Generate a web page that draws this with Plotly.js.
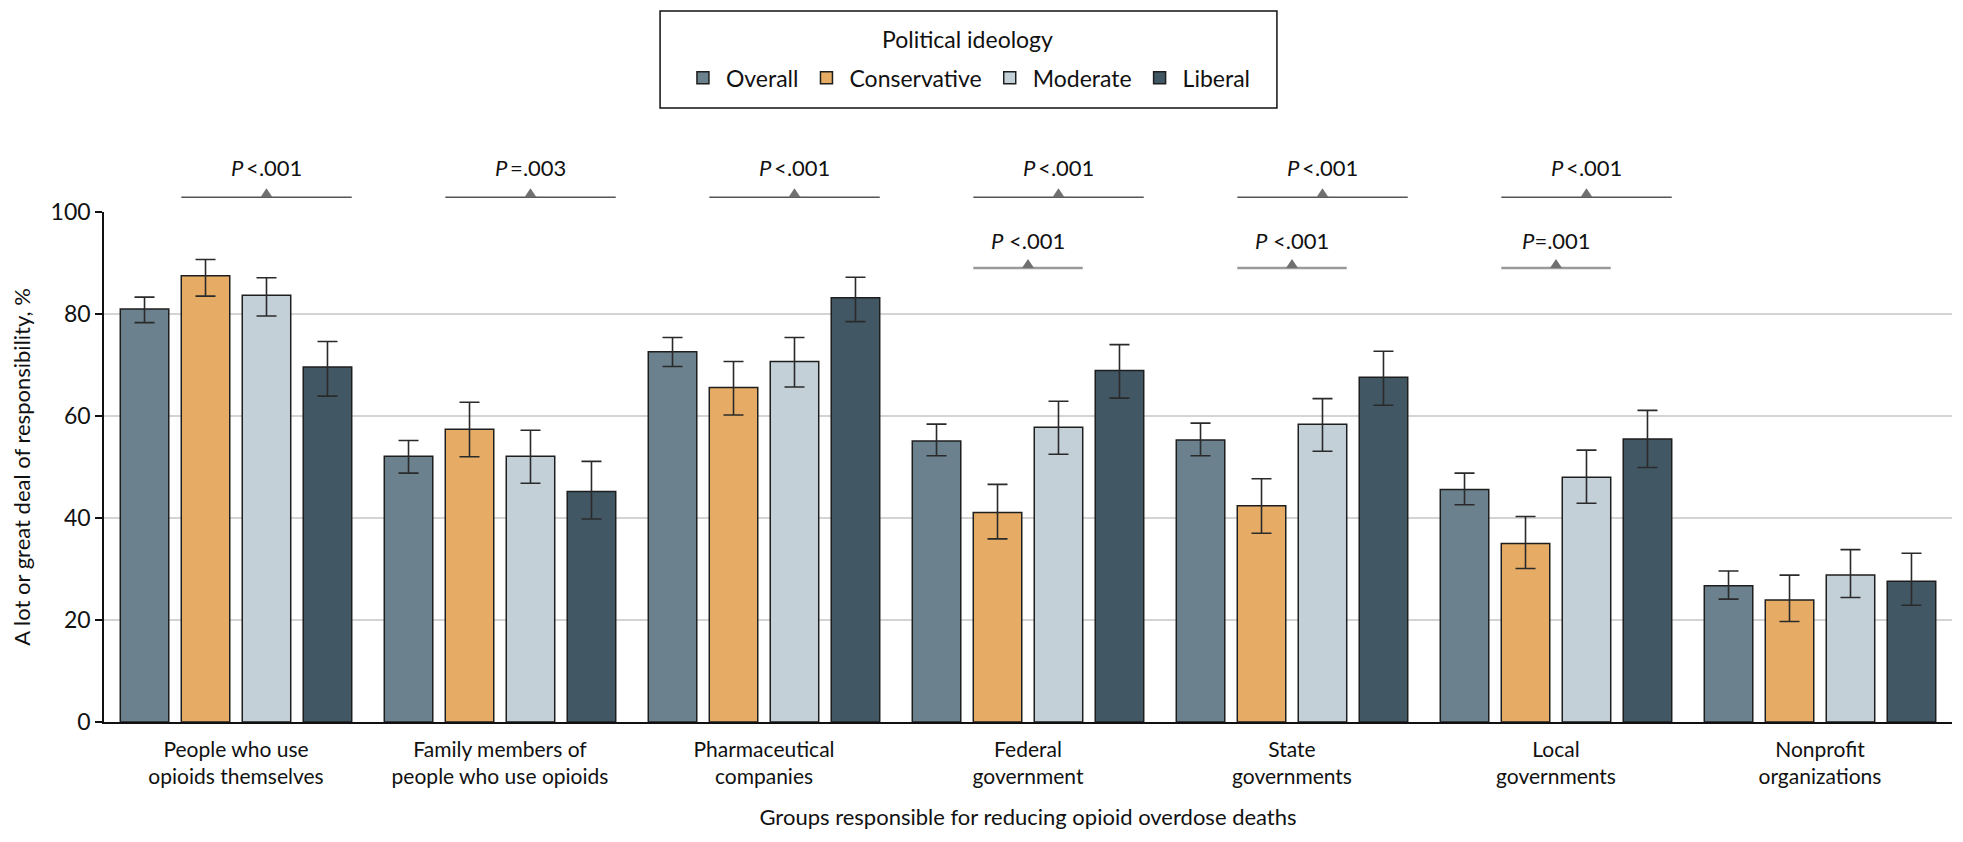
<!DOCTYPE html>
<html>
<head>
<meta charset="utf-8">
<script src="https://cdn.plot.ly/plotly-3.0.1.min.js"></script>
<style>
  html, body { margin: 0; padding: 0; background: #fff; }
  #chart { width: 1963px; height: 842px; }
</style>
</head>
<body>
<div id="chart"></div>
<script>
// ---- data ----
const categories = [
  'People who use<br>opioids themselves',
  'Family members of<br>people who use opioids',
  'Pharmaceutical<br>companies',
  'Federal<br>government',
  'State<br>governments',
  'Local<br>governments',
  'Nonprofit<br>organizations'
];
const seriesNames = ['Overall', 'Conservative', 'Moderate', 'Liberal'];
const legendTitle = 'Political ideology';

const overall      = [81.0, 52.1, 72.6, 55.1, 55.3, 45.6, 26.7];
const overallLo    = [78.3, 48.8, 69.7, 52.2, 52.2, 42.6, 24.1];
const overallHi    = [83.3, 55.2, 75.4, 58.4, 58.6, 48.8, 29.6];

const conservative   = [87.5, 57.4, 65.6, 41.1, 42.4, 35.0, 23.9];
const conservativeLo = [83.5, 52.0, 60.2, 35.9, 37.0, 30.1, 19.7];
const conservativeHi = [90.7, 62.7, 70.7, 46.6, 47.7, 40.3, 28.8];

const moderate     = [83.7, 52.1, 70.7, 57.8, 58.4, 48.0, 28.8];
const moderateLo   = [79.6, 46.8, 65.7, 52.5, 53.1, 42.9, 24.4];
const moderateHi   = [87.1, 57.2, 75.4, 62.9, 63.4, 53.3, 33.8];

const liberal      = [69.6, 45.2, 83.2, 68.9, 67.6, 55.5, 27.6];
const liberalLo    = [63.9, 39.8, 78.5, 63.5, 62.1, 49.9, 22.9];
const liberalHi    = [74.6, 51.1, 87.2, 74.0, 72.7, 61.1, 33.1];

// P values: across ideologies (conservative..liberal) and conservative vs moderate
const pAcross  = ['<.001', '=.003', '<.001', '<.001', '<.001', '<.001', null];
const pConsMod = [null, null, null, ' <.001', ' <.001', '=.001', null];

const yTicks = [0, 20, 40, 60, 80, 100];

// ---- styles ----
const colors = ['#6b818d', '#e6ac65', '#c3d0d8', '#415864'];
const FONT = 'Lato, "Open Sans", sans-serif';
const bargap = 0.076, bargroupgap = 0.205;

const values = [overall, conservative, moderate, liberal];
const los = [overallLo, conservativeLo, moderateLo, liberalLo];
const his = [overallHi, conservativeHi, moderateHi, liberalHi];

const traces = seriesNames.map((name, i) => ({
  type: 'bar',
  name: name,
  x: categories,
  y: values[i],
  marker: { color: colors[i], line: { color: '#1e1e1e', width: 1.5 } },
  error_y: {
    type: 'data',
    symmetric: false,
    array: his[i].map((h, k) => h - values[i][k]),
    arrayminus: los[i].map((l, k) => values[i][k] - l),
    color: '#2a2a2a',
    thickness: 1.6,
    width: 10
  },
  hoverinfo: 'x+y+name'
}));

// geometry of bracket positions in category units
const slot = (1 - bargap) / 4;
const halfBar = slot * (1 - bargroupgap) / 2;
const barCenter = j => (j - 1.5) * slot;

const shapes = [];
const annotations = [];
const plotH = 510; // px height of plot area, for triangle sizing
const triW = 6 / 264, triH = 9 / plotH;

function bracket(cat, j0, j1, yLine, yText, label, lineColor, lineWidth) {
  const x0 = cat + barCenter(j0) - halfBar;
  const x1 = cat + barCenter(j1) + halfBar;
  const xc = (x0 + x1) / 2;
  shapes.push({ type: 'line', xref: 'x', yref: 'paper', x0: x0, x1: x1, y0: yLine, y1: yLine,
    line: { color: lineColor, width: lineWidth } });
  shapes.push({ type: 'path', xref: 'x', yref: 'paper',
    path: `M ${xc - triW} ${yLine} L ${xc + triW} ${yLine} L ${xc} ${yLine + triH} Z`,
    fillcolor: '#707070', line: { width: 0 } });
  annotations.push({ xref: 'x', yref: 'paper', x: xc, y: yText, text: '<i>P</i>' + label,
    showarrow: false, font: { family: FONT, size: 22, color: '#111' }, xanchor: 'center', yanchor: 'middle' });
}

pAcross.forEach((p, k) => { if (p) bracket(k, 1, 3, 1.029, 1.088, '\u2009' + p, '#555', 1.5); });
pConsMod.forEach((p, k) => { if (p) bracket(k, 1, 2, 0.890, 0.945, p, '#9a9a9a', 2.5); });

// legend frame and title (legend items are Plotly's own)
shapes.push({ type: 'rect', xref: 'paper', yref: 'paper', x0: 0.3009, x1: 0.6347, y0: 1.204, y1: 1.394,
  line: { color: '#111', width: 1.5 }, fillcolor: 'rgba(0,0,0,0)' });
annotations.push({ xref: 'paper', yref: 'paper', x: 0.4675, y: 1.339, text: legendTitle, showarrow: false,
  xanchor: 'center', yanchor: 'middle', font: { family: FONT, size: 23, color: '#111' } });

const layout = {
  width: 1963,
  height: 842,
  margin: { l: 104, r: 11, t: 212, b: 120 },
  paper_bgcolor: '#fff',
  plot_bgcolor: '#fff',
  barmode: 'group',
  bargap: bargap,
  bargroupgap: bargroupgap,
  font: { family: FONT, size: 22, color: '#111' },
  showlegend: true,
  legend: {
    orientation: 'h',
    x: 0.4675, xanchor: 'center',
    y: 1.263, yanchor: 'middle',
    borderwidth: 0, bgcolor: 'rgba(0,0,0,0)',
    font: { family: FONT, size: 23, color: '#111' },
    traceorder: 'normal',
    itemwidth: 36,
    itemclick: false
  },
  xaxis: {
    type: 'category',
    range: [-0.5, 6.5],
    showline: true, linecolor: '#111', linewidth: 1.5,
    ticks: '', showgrid: false,
    ticklabelstandoff: 8,
    tickfont: { family: FONT, size: 21, color: '#111' },
    title: { text: 'Groups responsible for reducing opioid overdose deaths', standoff: 22,
             font: { family: FONT, size: 22, color: '#111' } }
  },
  yaxis: {
    range: [0, 100],
    tickvals: yTicks,
    ticktext: yTicks.map(String),
    showline: true, linecolor: '#111', linewidth: 1.5,
    ticks: 'outside', ticklen: 7, tickwidth: 1.5, tickcolor: '#111',
    showgrid: true, gridcolor: '#d4d4d4', gridwidth: 1.5,
    zeroline: false,
    tickfont: { family: FONT, size: 23, color: '#111' },
    title: { text: 'A lot or great deal of responsibility, %', standoff: 14,
             font: { family: FONT, size: 22, color: '#111' } }
  },
  shapes: shapes,
  annotations: annotations
};

Plotly.newPlot('chart', traces, layout, { displayModeBar: false, responsive: false });
</script>
</body>
</html>
